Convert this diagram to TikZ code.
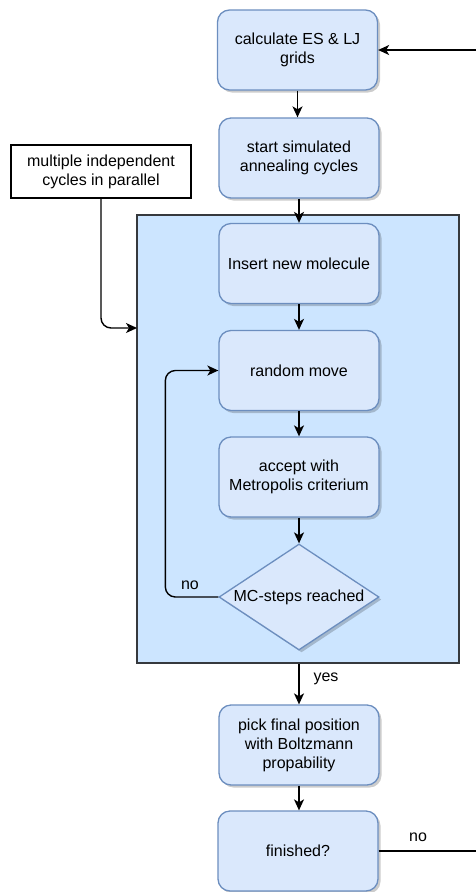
\documentclass[tikz,border=0pt]{standalone}
\usepackage{fontspec}
\setmainfont{Liberation Sans}
\usetikzlibrary{arrows.meta,shapes.geometric,shadows}
\definecolor{boxfill}{HTML}{DAE8FC}
\definecolor{boxline}{HTML}{6C8EBF}
\definecolor{contfill}{HTML}{CCE5FF}
\definecolor{contline}{HTML}{36393D}
\begin{document}
\begin{tikzpicture}[x=1pt,y=-1pt,
  font=\fontsize{16}{19}\selectfont,
  shad/.style={drop shadow={shadow xshift=2.5pt, shadow yshift=-2.5pt, fill=black, opacity=0.2}},
  proc/.style={rectangle, rounded corners=12pt, draw=boxline, fill=boxfill, line width=1.3pt,
    minimum width=160pt, minimum height=80pt, inner sep=0pt, align=center, shad},
  dec/.style={diamond, draw=boxline, fill=boxfill, line width=1.3pt,
    minimum width=160pt, minimum height=106pt, inner sep=0pt, shad},
  note/.style={rectangle, draw=black, fill=white, line width=1.3pt,
    minimum width=180pt, minimum height=53pt, inner sep=0pt, align=center},
  cont/.style={rectangle, draw=contline, fill=contfill, line width=2pt,
    minimum width=322pt, minimum height=448pt, inner sep=0pt},
  conn/.style={line width=1.4pt, -{Stealth[length=11pt,width=10pt,inset=3pt]}},
  lbl/.style={inner sep=0pt}
]
\useasboundingbox (0,0) rectangle (476,892);
\clip (0,0) rectangle (476,892);

\node[cont] (cont) at (298,439) {};

\node[proc] (calc) at (297.5,50) {calculate ES \& LJ\\grids};
\node[proc] (start) at (299,158) {start simulated\\annealing cycles};
\node[note] (multi) at (101,171.5) {multiple independent\\cycles in parallel};
\node[proc] (insert) at (299,263.5) {Insert new molecule};
\node[proc] (rand) at (299,370.5) {random move};
\node[proc] (accept) at (299,477) {accept with\\Metropolis criterium};
\node[dec] (dia) at (299,597) {};
\node[lbl] (diatext) at (dia) {MC-steps reached};
\node[proc] (pick) at (299,745) {pick final position\\with Boltzmann\\propability};
\node[proc] (fin) at (298,851) {finished?};

\coordinate (cin) at (137,328);
\coordinate (rside) at (480,450);

\draw[conn] (calc.south) -- (calc.south |- start.north);
\draw[conn] (start.south) -- (insert.north);
\draw[conn, rounded corners=10pt] (multi.south) |- (cin);
\draw[conn] (insert.south) -- (rand.north);
\draw[conn] (rand.south) -- (accept.north);
\draw[conn] (accept.south) -- (dia.north);
\draw[conn, rounded corners=10pt] (dia.west) -- ++(-53,0) |- (rand.west);
\node[lbl] (nolbl) at (190,585) {no};
\draw[conn] (pick.north |- cont.south) -- (pick.north);
\node[lbl] (yeslbl) at (326,679) {yes};
\draw[conn] (pick.south) -- (pick.south |- fin.north);
\draw[conn] (fin.east) -| (rside) |- (calc.east);
\node[lbl] (nolbl2) at (418,837) {no};
\end{tikzpicture}
\end{document}
